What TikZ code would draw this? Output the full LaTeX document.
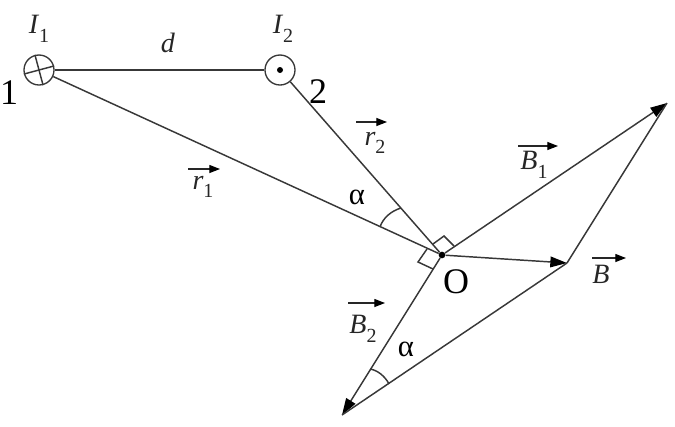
\documentclass[tikz,border=0pt]{standalone}
\usepackage{fontspec}
\setmainfont{Liberation Serif}
\usetikzlibrary{arrows.meta,calc,positioning}
\newcommand{\lab}[2]{\textit{#1}\raisebox{-0.3em}{\fontsize{15}{17}\selectfont #2}}
\begin{document}
\begin{tikzpicture}[x=0.75pt,y=-0.75pt]
	\tikzstyle{every node}=[inner sep=0pt]
	\tikzstyle{line}=[line width=1.1pt, color=black!78]
	\tikzstyle{wire}=[circle, draw=black!78, line width=1pt, minimum size=22.5pt]
	\tikzstyle{dotnode}=[circle, fill=black, minimum size=5pt]
	\tikzstyle{vec}=[line, -{Triangle[length=12.5pt,width=8pt,color=black]}]
	\tikzstyle{overarrow}=[line width=0.9pt, color=black!85, -{Triangle[length=8pt,width=6pt,color=black]}]
	\tikzstyle{small}=[font=\fontsize{21}{24}\selectfont, color=black!85]
	\tikzstyle{big}=[font=\fontsize{27}{30}\selectfont]
	\useasboundingbox (0,0) rectangle (675,426);
	\node [wire] (wire1) at (39,70) {};
	\node [wire] (wire2) at (280,70) {};
	\node [dotnode, minimum size=4.5pt] (dot2) at (280,70) {};
	\node [dotnode] (O) at (442,255) {};
	\coordinate (tipB1) at (667,103);
	\coordinate (tipB) at (567,263);
	\coordinate (tipB2) at (342,415);
	% wires
	\draw [line] (wire1.15) -- (wire1.195);
	\draw [line] (wire1.105) -- (wire1.285);
	\draw [line] (wire1) -- (wire2);
	\draw [line] (wire1) -- (O);
	\draw [line] (wire2) -- (O);
	% vectors
	\draw [vec] (O) -- (tipB1);
	\draw [vec] (O) -- (tipB);
	\draw [vec] (O) -- (tipB2);
	\draw [line] (tipB) -- (tipB1);
	\draw [line] (tipB) -- (tipB2);
	% right angles
	\draw [line] (433,244) -- (444,236) -- (454,246);
	\draw [line] (427,249) -- (418,262) -- (433,269);
	% angles
	\draw [line] (380,227) .. controls (383,218) and (391,211) .. (401,208);
	\draw [line] (370,369) .. controls (377,370) and (385,376) .. (389,384);
	% labels
	\node [small] (I1) at (39,29) {\lab{I}{1}};
	\node [small] (I2) at (283,29) {\lab{I}{2}};
	\node [small] (d) at (168,43) {\textit{d}};
	\node [big] (n1) at (9,93) {1};
	\node [big] (n2) at (318,92) {2};
	\node [big] (nO) at (456,282) {O};
	\node [small] (r1) at (203,187) {\lab{r}{1}};
	\node [small] (r2) at (375,143) {\lab{r}{2}};
	\node [small] (B1) at (534,165) {\lab{B}{1}};
	\node [small] (B) at (601,274) {\textit{B}};
	\node [small] (B2) at (363,329) {\lab{B}{2}};
	\node [font=\fontsize{23}{26}\selectfont] (a1) at (357,197) {α};
	\node [font=\fontsize{23}{26}\selectfont] (a2) at (406,349) {α};
	\draw [overarrow] (188,169) -- (220,169);
	\draw [overarrow] (356,122) -- (387,122);
	\draw [overarrow] (518,146) -- (558,146);
	\draw [overarrow] (592,258) -- (626,258);
	\draw [overarrow] (348,303) -- (385,303);
\end{tikzpicture}
\end{document}
